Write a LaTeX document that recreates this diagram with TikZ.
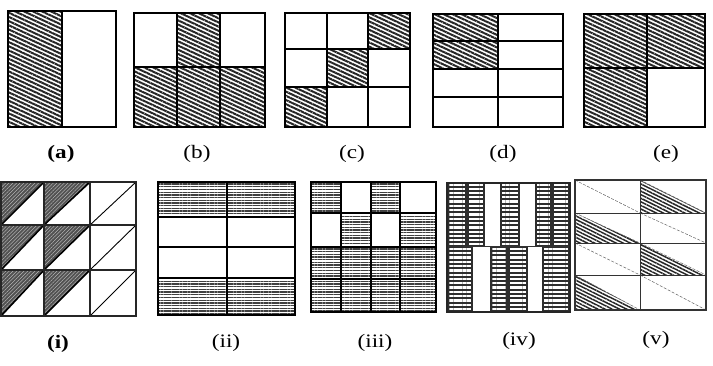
\documentclass[tikz,border=0pt]{standalone}
\usepackage{fontspec}
\setmainfont{Liberation Serif}
\usetikzlibrary{patterns.meta}
\tikzset{
  frame/.style={draw=black, line width=1.4pt},
  gridl/.style={draw=black, line width=1.1pt},
  thickgrid/.style={draw=black!85, line width=2.2pt},
  diaghatch/.style={pattern={Lines[angle=-25,distance=3.8pt,line width=2pt]}, pattern color=black!85},
  horizhatch/.style={pattern={Lines[angle=0,distance=2.7pt,line width=1.3pt]}, pattern color=black!75},
  trifill/.style={fill=black!68},
  trihatch/.style={pattern={Lines[angle=45,distance=2.6pt,line width=0.35pt]}, pattern color=white!80!black},
  vhatch/.style={pattern={Lines[angle=-26.5,distance=3.2pt,line width=1.5pt]}, pattern color=black!85},
  rung/.style={pattern={Lines[angle=0,distance=4.3pt,line width=2.3pt]}, pattern color=white},
  thindiag/.style={draw=black!60, line width=0.5pt, dash pattern=on 3pt off 1.5pt},
  lbl/.style={font=\fontsize{19}{21}\selectfont, inner sep=0pt},
  lblb/.style={font=\fontsize{19}{21}\selectfont\bfseries, inner sep=0pt},
}
\newcommand{\lbltext}[1]{\scalebox{1.22}[1]{#1}}
\newcommand{\ladderstrip}[4]{%
  \fill[black!82] (#1,#3) rectangle (#2,#4);
  \fill[rung] ({#1+2.2},{#3+1.5}) rectangle ({#2-2.2},{#4-1.5});}
\begin{document}
\begin{tikzpicture}[x=1pt,y=-1pt]
\useasboundingbox (0,0) rectangle (713,365);
\fill[white] (0,0) rectangle (713,365);

% ---------- (a)
\fill[diaghatch] (8,11) rectangle (62,127);
\draw[gridl] (62,11) -- (62,127);
\draw[frame] (8,11) rectangle (116,127);

% ---------- (b)
\fill[diaghatch] (177,13) rectangle (220,67);
\fill[diaghatch] (134,67) rectangle (265,127);
\draw[gridl] (177,13) -- (177,127) (220,13) -- (220,127) (134,67) -- (265,67);
\draw[frame] (134,13) rectangle (265,127);

% ---------- (c)
\fill[diaghatch] (368,13) rectangle (410,49);
\fill[diaghatch] (327,49) rectangle (368,87);
\fill[diaghatch] (285,87) rectangle (327,127);
\draw[gridl] (327,13) -- (327,127) (368,13) -- (368,127) (285,49) -- (410,49) (285,87) -- (410,87);
\draw[frame] (285,13) rectangle (410,127);

% ---------- (d)
\fill[diaghatch] (433,14) rectangle (498,69);
\draw[gridl] (498,14) -- (498,127) (433,41) -- (563,41) (433,69) -- (563,69) (433,97) -- (563,97);
\draw[frame] (433,14) rectangle (563,127);

% ---------- (e)
\fill[diaghatch] (584,14) rectangle (705,68);
\fill[diaghatch] (584,68) rectangle (647,127);
\draw[gridl] (647,14) -- (647,127) (584,68) -- (705,68);
\draw[frame] (584,14) rectangle (705,127);

% ---------- (i)
\foreach \xa/\xb in {1/44,44/90} {
  \foreach \ya/\yb in {182/225,225/270,270/316} {
    \fill[trifill] (\xa,\ya) -- (\xb,\ya) -- (\xa,\yb) -- cycle;
    \fill[trihatch] (\xa,\ya) -- (\xb,\ya) -- (\xa,\yb) -- cycle;
    \draw[black, line width=1.6pt] (\xa,\yb) -- (\xb,\ya);
  }
}
\foreach \ya/\yb in {182/225,225/270,270/316} {
  \draw[black, line width=0.9pt] (90,\yb) -- (136,\ya);
}
\draw[thickgrid] (44,182) -- (44,316) (90,182) -- (90,316) (1,225) -- (136,225) (1,270) -- (136,270);
\draw[thickgrid] (1,182) rectangle (136,316);

% ---------- (ii)
\fill[horizhatch] (158,182) rectangle (295,217);
\fill[horizhatch] (158,278) rectangle (295,315);
\draw[gridl] (227,182) -- (227,315) (158,217) -- (295,217) (158,247) -- (295,247) (158,278) -- (295,278);
\draw[frame] (158,182) rectangle (295,315);

% ---------- (iii)
\fill[horizhatch] (311,182) rectangle (436,312);
\fill[white] (341,182) rectangle (371,213);
\fill[white] (400,182) rectangle (436,213);
\fill[white] (311,213) rectangle (341,247);
\fill[white] (371,213) rectangle (400,247);
\draw[gridl] (341,182) -- (341,312) (371,182) -- (371,312) (400,182) -- (400,312)
  (311,213) -- (436,213) (311,247) -- (436,247) (311,279) -- (436,279);
\draw[frame] (311,182) rectangle (436,312);

% ---------- (iv)
\ladderstrip{447}{467}{183}{246}
\ladderstrip{467}{485}{183}{246}
\ladderstrip{500}{520}{183}{246}
\ladderstrip{535}{552}{183}{246}
\ladderstrip{552}{570}{183}{246}
\ladderstrip{447}{473}{246}{312}
\ladderstrip{490}{508}{246}{312}
\ladderstrip{508}{528}{246}{312}
\ladderstrip{542}{570}{246}{312}
\draw[black!80, line width=1pt] (447,246) -- (570,246);
\draw[black!85, line width=1.6pt] (447,183) rectangle (570,312);

% ---------- (v)
\fill[vhatch] (640,180) -- (706,213) -- (640,213) -- cycle;
\fill[vhatch] (575,213) -- (640,243) -- (575,243) -- cycle;
\fill[vhatch] (640,243) -- (706,275) -- (640,275) -- cycle;
\fill[vhatch] (575,275) -- (640,310) -- (575,310) -- cycle;
\foreach \xa/\xb in {575/640,640/706} {
  \foreach \ya/\yb in {180/213,213/243,243/275,275/310} {
    \draw[thindiag] (\xa,\ya) -- (\xb,\yb);
  }
}
\draw[draw=black!80, line width=1pt] (640,180) -- (640,310) (575,213) -- (706,213) (575,243) -- (706,243) (575,275) -- (706,275);
\draw[draw=black!80, line width=1.2pt] (575,180) rectangle (706,310);

% ---------- labels
\node[lblb] (la) at (61,154) {\lbltext{(a)}};
\node[lbl] (lb) at (197,154) {\lbltext{(b)}};
\node[lbl] (lc) at (352,154) {\lbltext{(c)}};
\node[lbl] (ld) at (503,154) {\lbltext{(d)}};
\node[lbl] (le) at (666,154) {\lbltext{(e)}};
\node[lblb] (li) at (58,344) {\lbltext{(i)}};
\node[lbl] (lii) at (226,343) {\lbltext{(ii)}};
\node[lbl] (liii) at (375,343) {\lbltext{(iii)}};
\node[lbl] (liv) at (519,341) {\lbltext{(iv)}};
\node[lbl] (lv) at (656,340) {\lbltext{(v)}};
\end{tikzpicture}
\end{document}
